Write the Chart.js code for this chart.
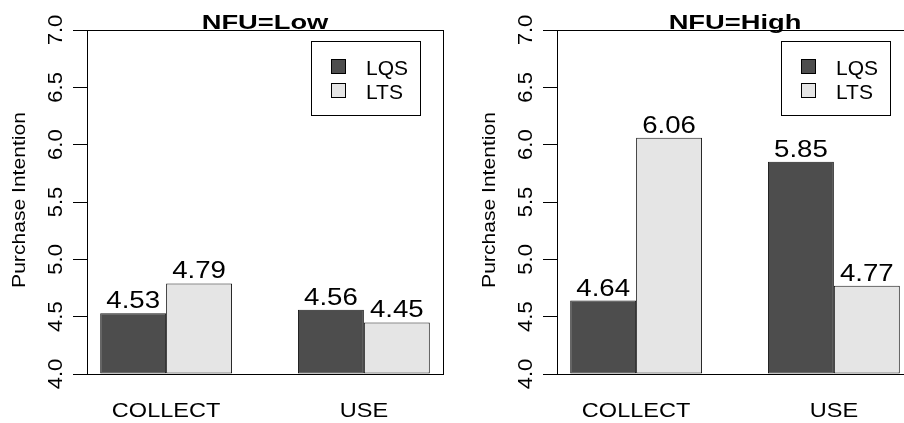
<!DOCTYPE html>
<html>
<head>
<meta charset="utf-8">
<script src="https://cdn.jsdelivr.net/npm/chart.js@4.4.1/dist/chart.umd.min.js"></script>
<style>
  html, body { margin: 0; padding: 0; background: #fff; }
  #wrap { position: relative; width: 904px; height: 423px; overflow: hidden; }
  #wrap canvas { position: absolute; top: 0; }
</style>
</head>
<body>
<div id="wrap">
  <canvas id="chartLow" width="470" height="423" style="left:0"></canvas>
  <canvas id="chartHigh" width="470" height="423" style="left:470px"></canvas>
</div>
<script>
// data
const categories = ['COLLECT', 'USE'];
const seriesNames = ['LQS', 'LTS'];
const seriesColors = ['#4d4d4d', '#e5e5e5'];
const lowLQS = [4.53, 4.56];
const lowLTS = [4.79, 4.45];
const highLQS = [4.64, 5.85];
const highLTS = [6.06, 4.77];
const yTicks = [4.0, 4.5, 5.0, 5.5, 6.0, 6.5, 7.0];
const yTitle = 'Purchase Intention';

const FONT = '"Liberation Sans", Arial, Helvetica, sans-serif';

// R-like barplot spacing: one bar gap before each group of two
function groupCenter(i) { return 2 + 3 * i; }

// R widens its glyphs a bit, so text is drawn with a small horizontal stretch
function drawText(ctx, text, x, y, sx, rot) {
    ctx.save();
    ctx.translate(x, y);
    if (rot) ctx.rotate(rot);
    ctx.scale(sx, 1);
    ctx.fillText(text, 0, 0);
    ctx.restore();
}

const rStyle = {
    id: 'rStyle',
    afterDraw(chart, args, opts) {
        const ctx = chart.ctx;
        const a = chart.chartArea;
        const yScale = chart.scales.y;
        const xScale = chart.scales.x;
        ctx.save();
        ctx.fillStyle = '#000';
        ctx.strokeStyle = '#000';
        ctx.lineWidth = 1;

        // box round the plot region
        ctx.strokeRect(Math.round(a.left) + 0.5, Math.round(a.top) + 0.5,
            Math.round(a.right - a.left), Math.round(a.bottom - a.top));

        // title
        ctx.font = 'bold 21px ' + FONT;
        ctx.textAlign = 'center';
        ctx.textBaseline = 'alphabetic';
        drawText(ctx, opts.title, (a.left + a.right) / 2, a.top - 1.5, 1.3);

        // y tick labels, parallel to the axis
        ctx.font = '21px ' + FONT;
        yScale.ticks.forEach(t => {
            drawText(ctx, t.value.toFixed(1), a.left - 25.5, yScale.getPixelForValue(t.value), 1.05, -Math.PI / 2);
        });

        // y axis title
        ctx.font = '19px ' + FONT;
        drawText(ctx, yTitle, a.left - 62, (a.top + a.bottom) / 2 - 2, 1.11, -Math.PI / 2);

        // category labels
        ctx.font = '21px ' + FONT;
        categories.forEach((c, i) => {
            drawText(ctx, c, xScale.getPixelForValue(groupCenter(i)), a.bottom + 43, 1.12);
        });

        // value labels above the bars
        ctx.font = '23px ' + FONT;
        chart.data.datasets.forEach((ds, di) => {
            chart.getDatasetMeta(di).data.forEach((bar, i) => {
                drawText(ctx, ds.data[i].y.toFixed(2), bar.x, bar.y - 5, 1.2);
            });
        });

        // legend box, top right inside the plot
        const lx = a.right - 132, ly = a.top + 11;
        ctx.strokeRect(Math.round(lx) + 0.5, Math.round(ly) + 0.5, 109, 74);
        ctx.font = '21px ' + FONT;
        ctx.textAlign = 'left';
        chart.data.datasets.forEach((ds, di) => {
            const cy = ly + 26 + di * 24;
            ctx.fillStyle = ds.backgroundColor;
            ctx.fillRect(lx + 20.5, cy - 7.5, 14, 14);
            ctx.strokeRect(lx + 20.5, cy - 7.5, 14, 14);
            ctx.fillStyle = '#000';
            drawText(ctx, ds.label, lx + 55, cy + 8, 1.0);
        });
        ctx.restore();
    }
};

function makePanel(canvasId, title, lqs, lts) {
    const seriesData = [lqs, lts];
    new Chart(document.getElementById(canvasId), {
        type: 'bar',
        data: {
            datasets: seriesNames.map((name, s) => ({
                label: name,
                data: seriesData[s].map((v, i) => ({ x: groupCenter(i), y: v })),
                backgroundColor: seriesColors[s],
                borderColor: '#1a1a1a',
                borderWidth: 1,
                borderSkipped: false,
                base: yTicks[0],
                categoryPercentage: 2 / 3,
                barPercentage: 1
            }))
        },
        options: {
            responsive: false,
            animation: false,
            devicePixelRatio: 1,
            layout: { padding: { top: 30, right: 27, bottom: 49, left: 0 } },
            plugins: {
                legend: { display: false },
                tooltip: { enabled: false },
                title: { display: false },
                rStyle: { title: title }
            },
            scales: {
                x: {
                    type: 'linear',
                    min: 0.8,
                    max: 6.2,
                    offset: false,
                    grid: { display: false, drawTicks: false },
                    border: { display: false },
                    ticks: { display: false },
                    afterBuildTicks: scale => {
                        scale.ticks = categories.map((c, i) => ({ value: groupCenter(i) }));
                    },
                    afterFit: scale => { scale.height = 0; }
                },
                y: {
                    min: yTicks[0],
                    max: yTicks[yTicks.length - 1],
                    grid: {
                        drawOnChartArea: false,
                        drawTicks: true,
                        tickLength: 14,
                        color: '#000',
                        lineWidth: 1
                    },
                    border: { display: true, color: '#000', width: 1 },
                    ticks: { display: false },
                    afterBuildTicks: scale => {
                        scale.ticks = yTicks.map(v => ({ value: v }));
                    },
                    afterFit: scale => { scale.width = 87; }
                }
            }
        },
        plugins: [rStyle]
    });
}

makePanel('chartLow', 'NFU=Low', lowLQS, lowLTS);
makePanel('chartHigh', 'NFU=High', highLQS, highLTS);
</script>
</body>
</html>
